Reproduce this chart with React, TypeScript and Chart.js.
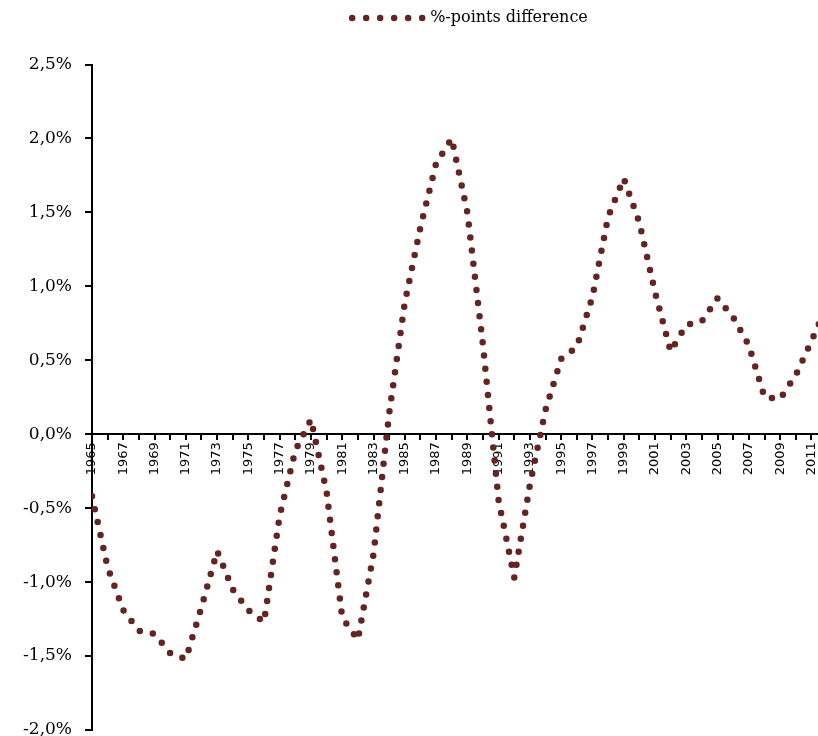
import React, { useEffect, useRef } from 'react';
import { Chart, registerables } from 'chart.js';

Chart.register(...registerables);

// ---- data ----
const years = [
  1965, 1966, 1967, 1968, 1969, 1970, 1971, 1972, 1973, 1974,
  1975, 1976, 1977, 1978, 1979, 1980, 1981, 1982, 1983, 1984,
  1985, 1986, 1987, 1988, 1989, 1990, 1991, 1992, 1993, 1994,
  1995, 1996, 1997, 1998, 1999, 2000, 2001, 2002, 2003, 2004,
  2005, 2006, 2007, 2008, 2009, 2010, 2011, 2012,
];

const pointsDifference = [
  -0.42, -0.90, -1.19, -1.33, -1.35, -1.48, -1.52, -1.17, -0.79, -1.05,
  -1.19, -1.27, -0.55, -0.11, 0.10, -0.39, -1.24, -1.39, -0.81, 0.14,
  0.89, 1.40, 1.83, 2.00, 1.50, 0.60, -0.45, -0.97, -0.34, 0.165,
  0.51, 0.59, 0.93, 1.47, 1.73, 1.43, 0.96, 0.56, 0.74, 0.765,
  0.92, 0.79, 0.60, 0.25, 0.24, 0.40, 0.63, 0.87,
];

const seriesLabel = '%-points difference';

const yTickValues = [-2.0, -1.5, -1.0, -0.5, 0.0, 0.5, 1.0, 1.5, 2.0, 2.5];

const xFirstYear = 1965;
const xLastTickYear = 2019;

// ---- styles ----
const lineColor = '#632523';
const CANVAS_W = 960;
const CANVAS_H = 760;

const legendSpacer = {
  id: 'legendSpacer',
  beforeInit(chart: any) {
    const legend = chart.legend;
    if (!legend || legend.__spaced) return;
    const orig = legend.fit;
    legend.fit = function () {
      orig.call(this);
      this.height += 28.5;
    };
    legend.__spaced = true;
  },
};

export default function App() {
  const ref = useRef<HTMLCanvasElement>(null);

  useEffect(() => {
    if (!ref.current) return;
    const chart = new Chart(ref.current, {
      type: 'line',
      data: {
        datasets: [
          {
            label: seriesLabel,
            data: years.map((yr, i) => ({ x: yr, y: pointsDifference[i] })),
            borderColor: lineColor,
            backgroundColor: 'rgba(0,0,0,0)',
            borderWidth: 6.5,
            borderDash: [0, 13.2],
            borderCapStyle: 'round',
            borderJoinStyle: 'round',
            pointRadius: 0,
            pointHoverRadius: 0,
            tension: 0,
            fill: false,
          },
        ],
      },
      options: {
        responsive: false,
        animation: false,
        events: [],
        layout: { padding: { left: 0, right: 20, top: 0, bottom: 30 } },
        plugins: {
          tooltip: { enabled: false },
          title: { display: false },
          legend: {
            display: true,
            position: 'top',
            align: 'center',
            labels: {
              boxWidth: 70,
              boxHeight: 0,
              padding: 10,
              color: '#000',
              font: { family: "'DejaVu Serif', serif", size: 16 },
              generateLabels: (c: any) => {
                const items = (Chart as any).defaults.plugins.legend.labels.generateLabels(c);
                items.forEach((it: any) => {
                  it.lineDash = [0, 14];
                  it.lineCap = 'round';
                  it.lineJoin = 'round';
                  it.lineWidth = 6.5;
                  it.fillStyle = 'rgba(0,0,0,0)';
                  it.strokeStyle = lineColor;
                });
                return items;
              },
            },
          },
        },
        scales: {
          x: {
            type: 'linear',
            position: { y: 0 } as any,
            min: xFirstYear,
            max: 2019.22,
            afterBuildTicks: (scale: any) => {
              const t = [];
              for (let yv = xFirstYear; yv <= xLastTickYear; yv++) t.push({ value: yv });
              scale.ticks = t;
            },
            ticks: {
              autoSkip: false,
              minRotation: 90,
              maxRotation: 90,
              padding: 3,
              color: '#000',
              font: { family: "'DejaVu Sans', sans-serif", size: 13 },
              callback: (v: any) => {
                const n = Number(v);
                return Number.isInteger(n) && Math.abs(n % 2) === 1 ? String(n) : '';
              },
            },
            grid: {
              drawOnChartArea: false,
              drawTicks: true,
              tickLength: 5,
              color: '#000',
              lineWidth: 2,
            },
            border: { display: true, color: '#000', width: 2 },
          },
          y: {
            type: 'linear',
            min: yTickValues[0],
            max: yTickValues[yTickValues.length - 1],
            afterBuildTicks: (scale: any) => {
              scale.ticks = yTickValues.map((v) => ({ value: v }));
            },
            afterFit: (scale: any) => {
              scale.width = 92;
            },
            ticks: {
              padding: 13,
              color: '#000',
              font: { family: "'DejaVu Serif', serif", size: 17 },
              callback: (v: any) => Number(v).toFixed(1).replace('.', ',') + '%',
            },
            grid: {
              drawOnChartArea: false,
              drawTicks: true,
              tickLength: 7,
              color: '#000',
              lineWidth: 2,
            },
            border: { display: true, color: '#000', width: 2 },
          },
        },
      } as any,
      plugins: [legendSpacer],
    });
    return () => chart.destroy();
  }, []);

  return (
    <div
      style={{
        position: 'absolute',
        left: 0,
        top: 0,
        width: 818,
        height: 736,
        overflow: 'hidden',
        background: '#fff',
      }}
    >
      <canvas ref={ref} width={CANVAS_W} height={CANVAS_H} style={{ display: 'block' }} />
    </div>
  );
}
